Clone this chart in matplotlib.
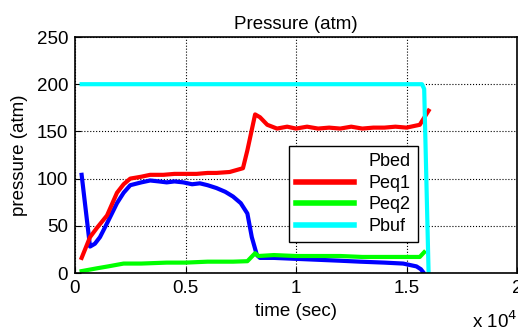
import numpy as np
import matplotlib.pyplot as plt
from matplotlib.lines import Line2D

plt.rcParams['font.family'] = ['Liberation Sans', 'DejaVu Sans']
plt.rcParams['font.size'] = 13.5

# time in seconds, pressures in atm
t_bed = [300, 680, 900, 1130, 1500, 1900, 2200, 2500, 3000, 3400, 3800, 4150, 4500, 4900,
         5300, 5650, 6000, 6400, 6800, 7150, 7500, 7800, 8000, 8230, 8370, 9000, 10000,
         11000, 12000, 12900, 14000, 14850, 15450, 15650, 15750]
p_bed = [104, 28, 31, 38, 55, 74, 85, 93, 96, 98, 97, 96, 97, 96,
         94, 95, 93, 90, 86, 81, 74, 63, 38, 19, 16, 16, 15,
         14, 13, 12, 11, 10, 7, 4, 1]

t_eq1 = [300, 680, 1000, 1450, 1900, 2200, 2500, 3000, 3400, 4000, 4500, 4900, 5500,
         6000, 6400, 7000, 7600, 7800, 8150, 8370, 8700, 9140, 9600, 10000, 10500,
         11000, 11500, 12000, 12500, 13000, 13500, 14000, 14500, 15000, 15600, 16000]
p_eq1 = [16, 38, 48, 61, 85, 94, 100, 102, 104, 104, 105, 105, 105,
         106, 106, 107, 111, 130, 168, 165, 157, 153, 155, 153, 155,
         153, 154, 153, 155, 153, 154, 154, 155, 154, 157, 172]

t_eq2 = [300, 1000, 1500, 2200, 3000, 4150, 5000, 6000, 7150, 7800, 8150, 8300, 9000,
         10000, 11000, 12000, 13000, 14000, 15000, 15600, 15800]
p_eq2 = [2, 5, 7, 10, 10, 11, 11, 12, 12, 12.5, 21, 18, 19,
         18, 18, 18, 17, 17, 17, 17, 22]

t_buf = [300, 15700, 15800, 16000]
p_buf = [200, 200, 195, 0]

xticks = [0, 5000, 10000, 15000, 20000]
xticklabels = ['0', '0.5', '1', '1.5', '2']

fig = plt.figure(figsize=(5.18, 3.33), dpi=100)
ax = fig.add_axes([75 / 518, 60 / 333, 442 / 518, 236 / 333])

lw = 3.0
ax.plot(t_bed, p_bed, color=(0, 0, 1), lw=lw)
ax.plot(t_eq1, p_eq1, color=(1, 0, 0), lw=lw)
ax.plot(t_eq2, p_eq2, color=(0, 1, 0), lw=lw)
ax.plot(t_buf, p_buf, color=(0, 1, 1), lw=lw)

ax.set_xlim(0, 20000)
ax.set_ylim(0, 250)
ax.set_xticks(xticks)
ax.set_xticklabels(xticklabels)
ax.set_yticks(range(0, 251, 50))
ax.tick_params(direction='in', length=4, labelsize=13.5, pad=5)
ax.grid(True, color='black', linestyle=':', linewidth=0.8)
for s in ax.spines.values():
    s.set_linewidth(1.2)

ax.set_title('Pressure (atm)', fontsize=13.5, pad=6)
ax.set_xlabel('time (sec)', fontsize=13.5, labelpad=4)
ax.set_ylabel('pressure (atm)', fontsize=13.5, labelpad=6)
fig.text(472 / 518, 1 - 328 / 333, r'x 10$^4$', fontsize=13.5)

handles = [Line2D([], [], color='white', lw=4),
           Line2D([], [], color=(1, 0, 0), lw=4),
           Line2D([], [], color=(0, 1, 0), lw=4),
           Line2D([], [], color=(0, 1, 1), lw=4)]
leg = ax.legend(handles, ['Pbed', 'Peq1', 'Peq2', 'Pbuf'], loc='upper left',
                bbox_to_anchor=(0.464, 0.576), fancybox=False, framealpha=1,
                edgecolor='black', fontsize=13, handlelength=3.2, borderpad=0.4,
                labelspacing=0.25)
leg.get_frame().set_linewidth(1.0)

fig.savefig('out.png', dpi=100)
